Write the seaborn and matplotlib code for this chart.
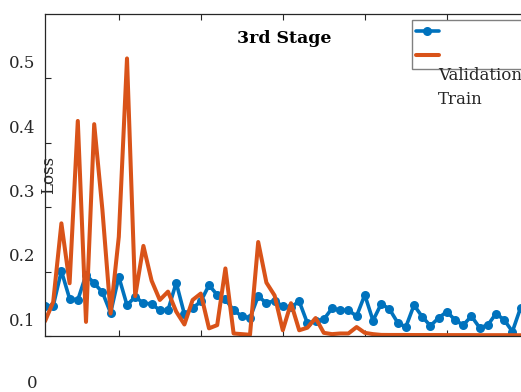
import matplotlib
matplotlib.use("Agg")
import matplotlib.pyplot as plt
import matplotlib.transforms as mtransforms
import numpy as np
import pandas as pd
import seaborn as sns

# ---------------- data ----------------
epochs = list(range(1, 60))
validation = [0.120, 0.121, 0.175, 0.132, 0.130, 0.169, 0.156, 0.142, 0.110, 0.166,
              0.122, 0.135, 0.125, 0.124, 0.114, 0.114, 0.157, 0.108, 0.117, 0.128,
              0.153, 0.138, 0.131, 0.114, 0.105, 0.102, 0.136, 0.125, 0.129, 0.120,
              0.119, 0.128, 0.094, 0.097, 0.100, 0.117, 0.114, 0.114, 0.105, 0.138,
              0.098, 0.124, 0.116, 0.095, 0.088, 0.122, 0.104, 0.090, 0.102, 0.112,
              0.099, 0.091, 0.105, 0.087, 0.091, 0.109, 0.099, 0.081, 0.118]
train = [0.097, 0.127, 0.249, 0.156, 0.408, 0.096, 0.403, 0.270, 0.109, 0.228,
         0.505, 0.136, 0.214, 0.160, 0.130, 0.143, 0.112, 0.092, 0.130, 0.140,
         0.086, 0.091, 0.179, 0.078, 0.077, 0.076, 0.220, 0.157, 0.137, 0.083,
         0.125, 0.083, 0.087, 0.102, 0.079, 0.077, 0.078, 0.078, 0.088, 0.079,
         0.077, 0.0758, 0.0757, 0.0757, 0.0757, 0.0756, 0.0756, 0.0756, 0.0756, 0.0755,
         0.0755, 0.0755, 0.0755, 0.0754, 0.0754, 0.0754, 0.0754, 0.0753, 0.0753]
series_names = ["Validation", "Train"]
ytick_labels = ["0.1", "0.2", "0.3", "0.4", "0.5"]
xtick_values = [10, 20, 30, 40, 50]
title = "3rd Stage"
ylabel = "Loss"

# ---------------- style ----------------
sns.set_style("ticks")
plt.rcParams["font.family"] = ["DejaVu Serif"]
plt.rcParams["xtick.direction"] = "in"
plt.rcParams["ytick.direction"] = "in"

BLUE = "#0072BD"
ORANGE = "#D95319"
DARK = "#262626"

W, H = 521, 392
fig = plt.figure(figsize=(W / 100, H / 100), dpi=100)
px_per_x = 8.2
x_lo, x_hi = 1, 61
ax = fig.add_axes([45 / W, (H - 336) / H, (x_hi - x_lo) * px_per_x / W, 322 / H])

df_val = pd.DataFrame({"epoch": epochs, "loss": validation})
df_tr = pd.DataFrame({"epoch": epochs, "loss": train})

sns.lineplot(data=df_val, x="epoch", y="loss", ax=ax, color=BLUE, lw=2.6,
             marker="o", markersize=6.5, markeredgewidth=0, label=" ")
sns.lineplot(data=df_tr, x="epoch", y="loss", ax=ax, color=ORANGE, lw=2.9,
             label=" ")

y_lo, y_hi = 0.0741, 0.574
ax.set_xlim(x_lo, x_hi)
ax.set_ylim(y_lo, y_hi)
ax.set_xlabel("")
ax.set_xticks(xtick_values)
ax.tick_params(axis="x", which="both", top=True, bottom=True, direction="in",
               labelbottom=False, length=4, width=0.8, color=DARK)
ytick_pos = [y_lo + 0.1 * k for k in range(len(ytick_labels))]
ax.set_yticks(ytick_pos)
ax.set_yticklabels(ytick_labels)
ax.tick_params(axis="y", direction="in", left=True, right=True, length=4,
               width=0.8, color=DARK, labelsize=12, labelcolor=DARK, pad=7)

offset = mtransforms.ScaledTranslation(0, 12 / 72, fig.dpi_scale_trans)
for lab in ax.get_yticklabels():
    lab.set_transform(lab.get_transform() + offset)
# the "0" label sits below the axes, one step further down
zero_tr = mtransforms.blended_transform_factory(ax.transAxes, ax.transData) + offset
ax.text(-7 / 492 - 0.0015, y_lo - 0.1, "0", transform=zero_tr, ha="right",
        va="center", fontsize=12, color=DARK, clip_on=False)

for side in ["left", "bottom", "top", "right"]:
    ax.spines[side].set_visible(True)
    ax.spines[side].set_color(DARK)
    ax.spines[side].set_linewidth(0.9)

ax.set_ylabel(ylabel, fontsize=12, color=DARK)
ax.yaxis.set_label_coords(0.025, 0.5)

ax.set_title(title, fontsize=12.5, fontweight="bold", x=(284 - 45) / 492,
             y=(336 - 47) / 322, va="center", color="black")

leg = ax.legend(loc="upper left",
                bbox_to_anchor=(412 / W, 1 - 20 / H, 160 / W, 0),
                bbox_transform=fig.transFigure, mode="expand",
                frameon=True, fancybox=False, fontsize=12, handlelength=1.35,
                borderpad=0.25, labelspacing=0.42, borderaxespad=0,
                handletextpad=0.3)
leg.get_frame().set_edgecolor("#808080")
leg.get_frame().set_linewidth(1.0)
leg.get_frame().set_alpha(1)

fig.text(438 / W, 1 - 75 / H, series_names[0], ha="left", va="center",
         fontsize=12, color=DARK)
fig.text(438 / W, 1 - 99 / H, series_names[1], ha="left", va="center",
         fontsize=12, color=DARK)

fig.savefig("out.png", dpi=100)
